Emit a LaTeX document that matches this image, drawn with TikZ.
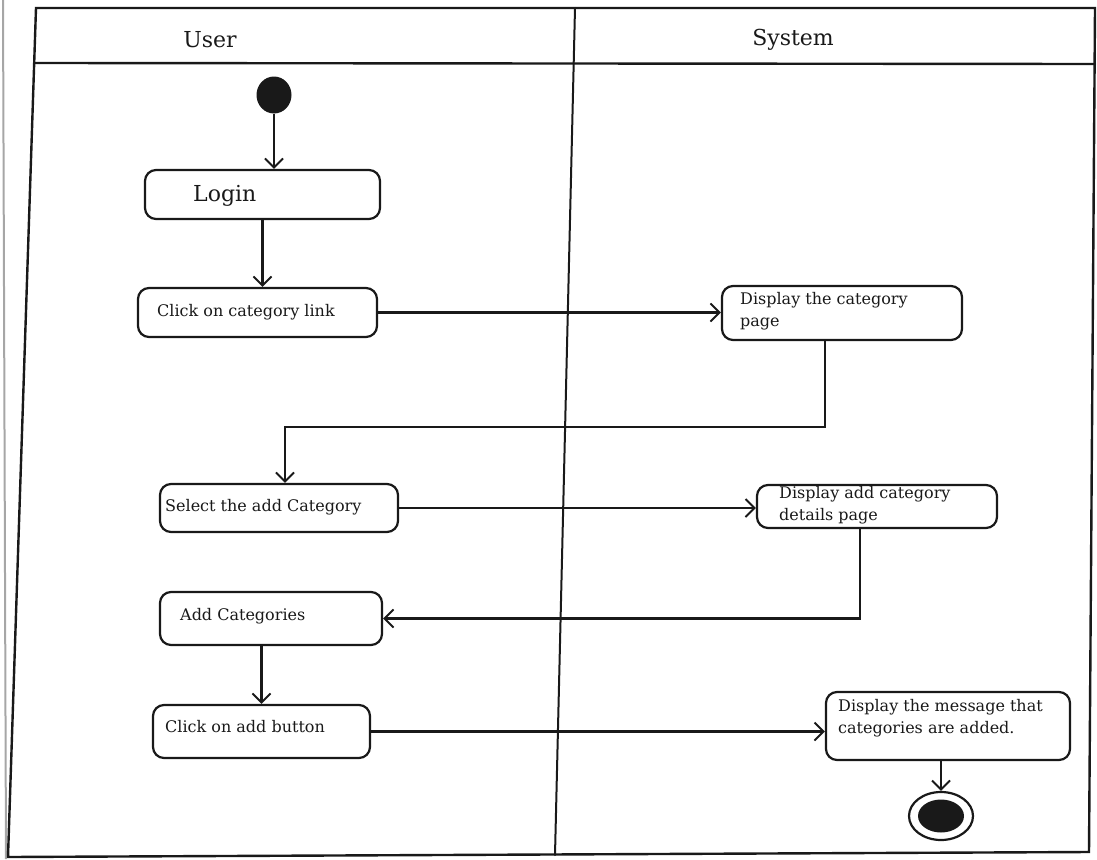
\documentclass[tikz,border=0pt]{standalone}
\usepackage{fontspec}
\setmainfont{DejaVu Serif}
\usetikzlibrary{arrows.meta,calc,shapes.geometric}
\definecolor{ink}{gray}{0.1}
\tikzset{
  act/.style={draw=ink, line width=2.2pt, rounded corners=11pt, inner sep=0pt, fill=white},
  lbl/.style={anchor=west, inner sep=0pt, text=ink, font=\fontsize{16}{22}\selectfont, align=left},
  hdr/.style={inner sep=0pt, text=ink, font=\fontsize{22}{26}\selectfont},
  arr/.style={draw=ink, line width=2.2pt, -{Straight Barb[length=9pt,width=18pt,line width=2pt]}},
  framel/.style={draw=ink, line width=2.4pt, line cap=round},
}
\begin{document}
\begin{tikzpicture}[x=1pt,y=-1pt]
\useasboundingbox (0,0) rectangle (1097,859);
% scan edge
\draw[gray!70, line width=2pt] (3,0) -- (6,859);
% frame
\draw[framel] (36,8) -- (1095,8) -- (1089,852) -- (8,857) -- cycle;
\draw[framel] (35,63) -- (1095,64);
\draw[framel, line width=2pt] (575,8) -- (555,855);
\node[hdr] (huser) at (210,40) {User};
\node[hdr] (hsys) at (793,40) {System};

% activities
\node[ellipse, fill=ink, minimum width=35pt, minimum height=37pt, inner sep=0pt] (start) at (274,95) {};
\node[act, minimum width=235pt, minimum height=49pt] (login) at (262.5,194.5) {};
\node[lbl, font=\fontsize{22}{26}\selectfont] (tlogin) at (193,196) {Login};
\node[act, minimum width=239pt, minimum height=49pt] (click1) at (257.5,312.5) {};
\node[lbl] (tclick1) at (157,312) {Click on category link};
\node[act, minimum width=240pt, minimum height=54pt] (disp1) at (842,313) {};
\node[lbl] (tdisp1) at (740,311) {Display the category\\page};
\node[act, minimum width=238pt, minimum height=48pt] (select) at (279,508) {};
\node[lbl] (tselect) at (165,507) {Select the add Category};
\node[act, minimum width=240pt, minimum height=43pt] (disp2) at (877,506.5) {};
\node[lbl] (tdisp2) at (779,505) {Display add category\\details page};
\node[act, minimum width=222pt, minimum height=53pt] (addcat) at (271,618.5) {};
\node[lbl] (taddcat) at (180,616) {Add Categories};
\node[act, minimum width=217pt, minimum height=53pt] (click2) at (261.5,731.5) {};
\node[lbl] (tclick2) at (165,727) {Click on add button};
\node[act, minimum width=244pt, minimum height=68pt] (disp3) at (948,726) {};
\node[lbl] (tdisp3) at (838,718) {Display the message that\\categories are added.};
\node[ellipse, draw=ink, line width=2.2pt, minimum width=64pt, minimum height=48pt, inner sep=0pt] (end) at (941,816) {};
\node[ellipse, fill=ink, minimum width=46pt, minimum height=33pt, inner sep=0pt] (endin) at (end.center) {};

% connectors
\draw[arr] (start.south) -- (start.south |- login.north);
\draw[arr] (login.south) -- (login.south |- click1.north);
\draw[arr] (click1.east) -- (click1.east -| disp1.west);
\draw[arr] ($(disp1.south)+(-17,0)$) -- ++(0,86) -| ($(select.north)+(6,0)$);
\draw[arr] (select.east) -- (select.east -| disp2.west);
\draw[arr] ($(disp2.south)+(-17,0)$) |- (addcat.east);
\draw[arr] (click2.north |- addcat.south) -- (click2.north);
\draw[arr] (click2.east) -- (click2.east -| disp3.west);
\draw[arr] (end.north |- disp3.south) -- (end.north);
\end{tikzpicture}
\end{document}
